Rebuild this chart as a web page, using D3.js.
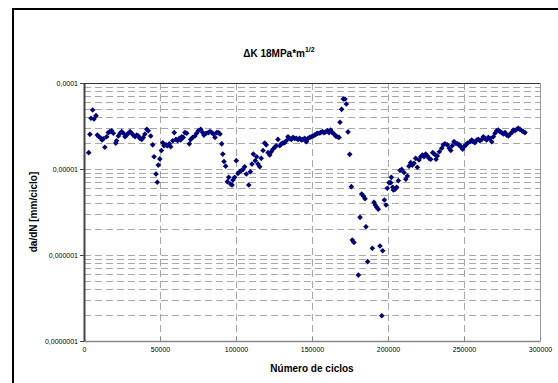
<!DOCTYPE html>
<html><head><meta charset="utf-8">
<script src="https://cdn.jsdelivr.net/npm/d3@7"></script>
<style>html,body{margin:0;padding:0;background:#fff;overflow:hidden;}svg{display:block;font-family:"Liberation Sans",Arial,sans-serif;}</style>
</head><body><svg id="c" width="558" height="383"></svg>
<script>
const cycles = [3100,3900,4600,5700,6600,7900,8750,9870,11000,11840,12700,13700,14900,16000,17000,18200,19300,20900,21400,22600,23700,24800,25900,27000,28100,29100,30300,31400,32400,33600,34700,35700,36800,38000,39000,40100,41300,42300,43900,45200,46100,47400,48200,48900,49900,50900,51800,52600,53900,54800,56100,57000,58400,59400,60500,61600,62700,63600,64300,65300,66400,67600,69300,70200,71500,73000,74100,75200,76800,78100,78900,80300,81800,82900,84000,85100,86200,87300,88400,89500,90600,91300,92100,93200,94300,95200,96500,97400,98000,99100,100200,101300,102400,103500,104600,105700,106800,108400,109400,110500,111400,112700,113600,114500,115600,116600,117800,118900,119900,121100,122200,123200,124300,125500,126500,127600,128800,129800,130900,132000,133100,134200,135300,136400,137500,138600,139700,140800,141900,143000,144100,145200,146300,147400,148500,149500,150700,151800,152800,153500,154600,155700,156800,157900,159000,160100,161200,162300,163400,164500,165600,166600,167800,168400,169500,170600,171700,172600,173700,174800,175900,176500,177600,180500,181600,182700,183800,184900,185500,186600,189700,190800,191600,192600,193600,194700,195900,196500,197600,198700,199500,200700,201800,202200,203100,203500,204600,205700,206800,207900,209000,210500,211700,212700,213800,214900,216000,217100,218200,219300,220400,221500,222600,223700,224800,225900,227000,228100,229400,230500,231600,232400,233800,235300,236400,237500,239000,240300,241300,242300,243400,244500,245600,246900,247800,249100,250000,251300,252400,254000,255100,256100,257200,258400,259400,260500,261700,262700,263800,264900,266000,267100,268200,269300,270400,271500,272600,273700,274800,275900,277000,278100,279200,280300,281400,282400,283600,284700,285700,286800,288000,289000,290100];
const rate = [1.55e-5,2.53e-5,3.89e-5,4.85e-5,3.82e-5,4.17e-5,2.48e-5,2.37e-5,2.29e-5,2.17e-5,2.25e-5,1.79e-5,2.37e-5,2.65e-5,2.72e-5,2.79e-5,2.60e-5,2.00e-5,2.13e-5,2.42e-5,2.60e-5,2.72e-5,2.60e-5,2.37e-5,2.48e-5,2.60e-5,2.72e-5,2.60e-5,2.48e-5,2.37e-5,2.48e-5,2.42e-5,2.27e-5,2.21e-5,2.33e-5,2.55e-5,2.90e-5,2.79e-5,2.42e-5,1.91e-5,1.39e-5,8.75e-6,7.0e-6,1.11e-5,1.31e-5,1.64e-5,2.02e-5,1.86e-5,1.91e-5,1.86e-5,1.96e-5,1.82e-5,2.13e-5,2.65e-5,2.21e-5,2.13e-5,2.27e-5,2.17e-5,2.37e-5,2.33e-5,2.65e-5,2.60e-5,1.96e-5,2.21e-5,2.33e-5,2.42e-5,2.60e-5,2.79e-5,2.90e-5,2.65e-5,2.48e-5,2.60e-5,2.65e-5,2.72e-5,2.65e-5,2.55e-5,2.33e-5,2.65e-5,2.65e-5,2.55e-5,1.96e-5,1.49e-5,1.22e-5,1.08e-5,7.13e-6,8.0e-6,6.7e-6,6.52e-6,7.45e-6,8.0e-6,1.25e-5,8.9e-6,9.3e-6,9.6e-6,9.9e-6,1.06e-5,8.75e-6,6.52e-6,9.3e-6,1.14e-5,1.49e-5,1.25e-5,1.39e-5,1.14e-5,1.06e-5,1.33e-5,1.64e-5,2.00e-5,1.91e-5,1.55e-5,1.455e-5,1.59e-5,1.70e-5,1.79e-5,1.86e-5,2.21e-5,1.86e-5,1.96e-5,2.00e-5,2.02e-5,2.13e-5,2.37e-5,2.27e-5,2.21e-5,2.33e-5,2.27e-5,2.27e-5,2.21e-5,2.27e-5,2.17e-5,2.21e-5,2.27e-5,2.08e-5,2.27e-5,2.33e-5,2.37e-5,2.42e-5,2.48e-5,2.55e-5,2.60e-5,2.60e-5,2.65e-5,2.72e-5,2.65e-5,2.70e-5,2.79e-5,2.65e-5,2.84e-5,2.65e-5,2.55e-5,2.42e-5,2.37e-5,2.33e-5,3.49e-5,4.94e-5,6.52e-5,6.52e-5,5.70e-5,2.70e-5,1.48e-5,6.23e-6,1.49e-6,1.40e-6,5.84e-7,2.74e-6,5.12e-6,4.85e-6,4.52e-6,2.13e-6,8.37e-7,1.20e-6,4.10e-6,3.81e-6,3.58e-6,3.40e-6,1.27e-6,1.97e-7,1.12e-6,4.36e-6,3.81e-6,5.97e-6,6.94e-6,6.94e-6,8.0e-6,6.13e-6,5.70e-6,5.80e-6,6.13e-6,7.32e-6,9.6e-6,9.9e-6,9.1e-6,7.6e-6,8.3e-6,1.08e-5,1.185e-5,1.11e-5,1.165e-5,1.33e-5,1.046e-5,1.27e-5,1.39e-5,1.455e-5,1.39e-5,1.49e-5,1.42e-5,1.33e-5,1.30e-5,1.55e-5,1.49e-5,1.30e-5,1.42e-5,1.59e-5,1.745e-5,1.91e-5,1.96e-5,1.91e-5,1.745e-5,1.64e-5,1.86e-5,2.08e-5,2.00e-5,1.96e-5,1.91e-5,1.82e-5,1.70e-5,1.82e-5,1.91e-5,2.00e-5,2.08e-5,2.17e-5,2.08e-5,2.02e-5,2.17e-5,2.21e-5,2.13e-5,2.21e-5,2.37e-5,2.27e-5,2.17e-5,2.33e-5,2.27e-5,2.08e-5,2.37e-5,2.60e-5,2.79e-5,2.84e-5,2.72e-5,2.65e-5,2.55e-5,2.65e-5,2.48e-5,2.42e-5,2.55e-5,2.65e-5,2.84e-5,2.79e-5,2.90e-5,2.98e-5,2.90e-5,2.79e-5,2.72e-5,2.65e-5];
const xTicks = [0,50000,100000,150000,200000,250000,300000];
const xTickLabels = ["0","50000","100000","150000","200000","250000","300000"];
const yTicks = [1e-4,1e-5,1e-6,1e-7];
const yTickLabels = ["0,0001","0,00001","0,000001","0,0000001"];
const titleMain = "ΔK 18MPa*m";
const titleSup = "1/2";
const xTitle = "Número de ciclos";
const yTitle = "da/dN [mm/ciclo]";

const svg = d3.select("#c");
const L = 84, R = 540, T = 83, B = 341;
const x = d3.scaleLinear().domain([0,300000]).range([L,R]);
const y = d3.scaleLog().domain([1e-7,1e-4]).range([B,T]);

svg.append("rect").attr("x",0).attr("y",0).attr("width",558).attr("height",383).attr("fill","#fff");
svg.append("rect").attr("x",13).attr("y",9).attr("width",560).attr("height",390)
  .attr("fill","none").attr("stroke","#000").attr("stroke-width",2);

// horizontal grid (log minor+major)
const gridVals = [];
for (let e=-7; e<=-5; e++) for (let k=1;k<=9;k++) gridVals.push(k*Math.pow(10,e));
const g = svg.append("g");
g.selectAll("line.h").data(gridVals.filter(v=>v>1e-7)).enter().append("line")
  .attr("x1",L).attr("x2",R).attr("y1",d=>Math.round(y(d))+0.5).attr("y2",d=>Math.round(y(d))+0.5)
  .attr("stroke","#a8a8a8").attr("stroke-width",1).attr("stroke-dasharray","7,4");
g.selectAll("line.v").data(xTicks.slice(1,-1)).enter().append("line")
  .attr("x1",d=>Math.round(x(d))+0.5).attr("x2",d=>Math.round(x(d))+0.5).attr("y1",T).attr("y2",B)
  .attr("stroke","#a8a8a8").attr("stroke-width",1).attr("stroke-dasharray","7,4");

// plot borders
svg.append("line").attr("x1",L).attr("x2",R).attr("y1",T+0.5).attr("y2",T+0.5).attr("stroke","#333");
svg.append("line").attr("x1",R+0.5).attr("x2",R+0.5).attr("y1",T).attr("y2",B).attr("stroke","#999");

// axes
const xAxis = d3.axisBottom(x).tickValues(xTicks).tickFormat((d,i)=>xTickLabels[i]).tickSize(4).tickSizeOuter(0);
const gx = svg.append("g").attr("transform",`translate(0,${B})`).call(xAxis);
gx.select(".domain").attr("stroke","#888").attr("stroke-width",1.5);
gx.selectAll(".tick line").attr("stroke","#888").attr("transform","translate(0,-4)");
gx.selectAll("text").attr("font-size",7).attr("fill","#000").attr("dy","0.9em").attr("y",5);

const yAxis = d3.axisLeft(y).tickValues(yTicks).tickFormat((d,i)=>yTickLabels[i]).tickSize(4).tickSizeOuter(0);
const gy = svg.append("g").attr("transform",`translate(${L},0)`).call(yAxis);
gy.select(".domain").attr("stroke","#444").attr("stroke-width",2);
gy.selectAll(".tick line").attr("stroke","#444");
gy.selectAll("text").attr("font-size",7).attr("fill","#000").attr("x",-6);

// points
svg.append("g").selectAll("path").data(cycles.map((c,i)=>[c,rate[i]])).enter().append("path")
  .attr("d","M0,-2.8L2.8,0L0,2.8L-2.8,0Z")
  .attr("transform",d=>`translate(${x(d[0])},${y(d[1])})`)
  .attr("fill","#000080");

// titles
const t = svg.append("text").attr("x",279).attr("y",57).attr("text-anchor","middle")
  .attr("font-size",10).attr("font-weight","bold");
t.append("tspan").text(titleMain);
t.append("tspan").attr("font-size",7).attr("dy",-5).text(titleSup);

svg.append("text").attr("x",(L+R)/2).attr("y",372).attr("text-anchor","middle")
  .attr("font-size",10).attr("font-weight","bold").text(xTitle);
svg.append("text").attr("transform",`translate(37,${(T+B)/2}) rotate(-90)`).attr("text-anchor","middle")
  .attr("font-size",10).attr("font-weight","bold").text(yTitle);
</script></body></html>
